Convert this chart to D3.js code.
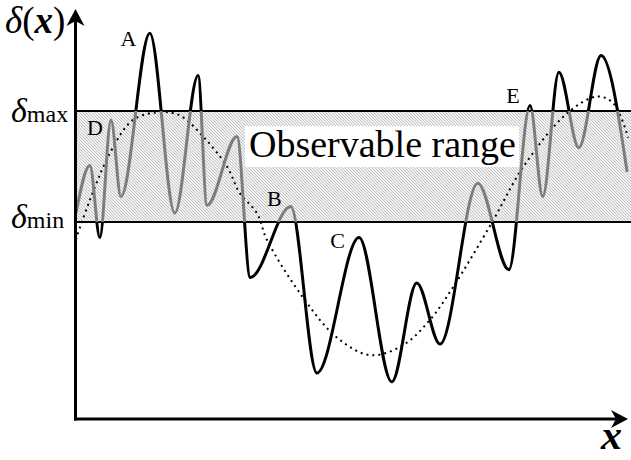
<!DOCTYPE html>
<html lang="en">
<head>
  <meta charset="UTF-8">
  <script src="https://cdn.jsdelivr.net/npm/d3@7/dist/d3.min.js"></script>
  <style>
    body { margin: 0; background: #fff; }
  </style>
</head>
<body>
  <svg width="631" height="460"></svg>
  <script>
    // signal: position along x (0-100) and delta, where deltaMin = 0 and deltaMax = 1
    var signalX = [0, 2.5, 4.3, 6.3, 8.1, 13.3, 17.8, 22.0, 23.6, 29.0, 31.4, 38.7, 43.4, 51.0, 56.9, 61.4, 65.6, 72.4, 78.0, 81.8, 84.1, 87.0, 90.6, 94.6, 99.3];
    var signalY = [0.08, 0.51, -0.14, 0.92, 0.23, 1.70, 0.08, 1.32, 0.15, 0.77, -0.50, 0.14, -1.36, -0.14, -1.44, -0.55, -1.10, 0.35, -0.43, 1.05, 0.23, 1.35, 0.67, 1.50, 0.45];

    // slow trend (dotted)
    var trendX = [0, 0.7, 6.1, 10.3, 15.1, 18.7, 22.9, 27.2, 29.5, 32.6, 34.4, 40.9, 47.0, 53.0, 58.9, 63.8, 67.9, 75.0, 80.5, 88.5, 93.9, 96.8, 99.5];
    var trendY = [-0.16, -0.05, 0.62, 0.92, 0.99, 0.96, 0.77, 0.50, 0.26, 0.08, -0.16, -0.68, -1.04, -1.20, -1.11, -0.88, -0.59, 0.00, 0.49, 0.98, 1.13, 1.07, 0.76];

    // point labels
    var markNames = ["A", "B", "C", "D", "E"];
    var markX = [8.0, 34.4, 45.8, 2.0, 77.5];
    var markY = [1.59, 0.14, -0.23, 0.78, 1.07];

    var bandLimits = [0, 1]; // deltaMin, deltaMax

    var serif = "'Liberation Serif', Tinos, 'Times New Roman', Times, 'DejaVu Serif', serif";

    var svg = d3.select("svg");
    var width = +svg.attr("width");
    var height = +svg.attr("height");
    var originX = 75.5, originY = 419;

    var x = d3.scaleLinear().domain([0, 100]).range([76, 631]);
    var y = d3.scaleLinear().domain([0, 1]).range([222, 111]);

    var defs = svg.append("defs");

    // hatch for the observable band
    var pat = defs.append("pattern")
      .attr("id", "hatch")
      .attr("patternUnits", "userSpaceOnUse")
      .attr("width", 3).attr("height", 3);
    pat.append("rect").attr("width", 3).attr("height", 3).attr("fill", "#f2f2f2");
    pat.append("path")
      .attr("d", "M-1,-1 L4,4 M-1,2 L1,4 M2,-1 L4,1")
      .attr("stroke", "#bdbdbd").attr("stroke-width", 0.9);

    defs.append("clipPath").attr("id", "inside")
      .append("rect")
      .attr("x", 0).attr("y", y(1)).attr("width", width).attr("height", y(0) - y(1));
    var outside = defs.append("clipPath").attr("id", "outside");
    outside.append("rect").attr("x", 0).attr("y", 0).attr("width", width).attr("height", y(1));
    outside.append("rect").attr("x", 0).attr("y", y(0)).attr("width", width).attr("height", height - y(0));

    // band
    svg.append("rect")
      .attr("x", x(0)).attr("y", y(1))
      .attr("width", width - x(0)).attr("height", y(0) - y(1))
      .attr("fill", "url(#hatch)");

    // label box
    svg.append("rect")
      .attr("x", 245).attr("y", 126).attr("width", 274).attr("height", 41)
      .attr("fill", "#fff");
    svg.append("text")
      .attr("x", 249).attr("y", 157)
      .attr("font-family", serif)
      .attr("font-size", 38)
      .text("Observable range");

    svg.selectAll(".limit")
      .data(bandLimits)
      .enter().append("line")
      .attr("x1", x(0)).attr("x2", width)
      .attr("y1", d => y(d)).attr("y2", d => y(d))
      .attr("stroke", "#000").attr("stroke-width", 2);

    // dotted trend
    var trend = d3.line()
      .x(d => x(d[0])).y(d => y(d[1]))
      .curve(d3.curveCatmullRom);
    svg.append("path")
      .attr("d", trend(d3.zip(trendX, trendY)))
      .attr("fill", "none")
      .attr("stroke", "#000")
      .attr("stroke-width", 2)
      .attr("stroke-dasharray", "2 4");

    // signal: gray inside band, black outside
    var sig = d3.line()
      .x(d => x(d[0])).y(d => y(d[1]))
      .curve(d3.curveMonotoneX);
    var sigPts = d3.zip(signalX, signalY);
    svg.append("path")
      .attr("d", sig(sigPts))
      .attr("clip-path", "url(#inside)")
      .attr("fill", "none").attr("stroke", "#7d7d7d").attr("stroke-width", 3);
    svg.append("path")
      .attr("d", sig(sigPts))
      .attr("clip-path", "url(#outside)")
      .attr("fill", "none").attr("stroke", "#000").attr("stroke-width", 3);

    // point letters
    svg.selectAll(".mark")
      .data(markNames)
      .enter().append("text")
      .attr("x", (d, i) => x(markX[i]))
      .attr("y", (d, i) => y(markY[i]))
      .attr("font-family", serif)
      .attr("font-size", 22)
      .text(d => d);

    // axes with arrows
    svg.append("line")
      .attr("x1", originX).attr("y1", originY + 1.5)
      .attr("x2", originX).attr("y2", 18)
      .attr("stroke", "#000").attr("stroke-width", 3);
    svg.append("path")
      .attr("d", `M${originX},9 L${originX + 9},26 L${originX},21 L${originX - 9},26 Z`)
      .attr("fill", "#000");
    svg.append("line")
      .attr("x1", originX - 1.5).attr("y1", originY)
      .attr("x2", 620).attr("y2", originY)
      .attr("stroke", "#000").attr("stroke-width", 3);
    svg.append("path")
      .attr("d", `M628,${originY} L611,${originY - 9} L616,${originY} L611,${originY + 9} Z`)
      .attr("fill", "#000");

    // axis titles
    var yt = svg.append("text").attr("x", 5).attr("y", 33)
      .attr("font-family", serif).attr("font-size", 37);
    yt.append("tspan").attr("font-style", "italic").text("δ");
    yt.append("tspan").text("(");
    yt.append("tspan").attr("font-style", "italic").attr("font-weight", "bold").text("x");
    yt.append("tspan").text(")");

    svg.append("text")
      .attr("x", 622).attr("y", 449)
      .attr("text-anchor", "end")
      .attr("font-family", serif)
      .attr("font-size", 42)
      .attr("font-style", "italic").attr("font-weight", "bold")
      .text("x");

    var limitNames = ["min", "max"];
    var lt = svg.selectAll(".lim")
      .data(bandLimits)
      .enter().append("text")
      .attr("x", 11)
      .attr("y", d => y(d) + (d ? 11 : 6))
      .attr("font-family", serif)
      .attr("font-size", 34);
    lt.append("tspan").attr("font-style", "italic").text("δ");
    lt.append("tspan").attr("font-size", 24).text((d, i) => limitNames[i]);
  </script>
</body>
</html>
